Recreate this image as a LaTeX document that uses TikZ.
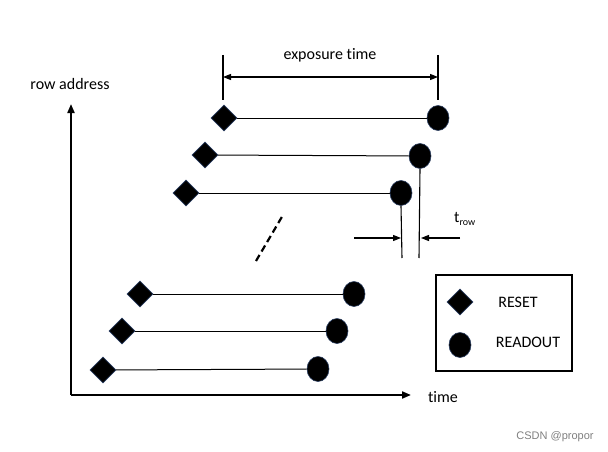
\documentclass[tikz,border=0pt]{standalone}
\usepackage{fontspec}
\setmainfont{Carlito}[Ligatures={NoCommon}]
\newfontfamily\wmfont{Liberation Sans}
\usetikzlibrary{shapes.geometric,arrows.meta}
\definecolor{edgeblue}{RGB}{40,60,95}
\tikzset{
  rst/.style={diamond,fill=black,draw=edgeblue,line width=0.6pt,minimum width=26pt,minimum height=26pt,inner sep=0pt},
  rdo/.style={ellipse,fill=black,draw=edgeblue,line width=0.6pt,minimum width=22pt,minimum height=25pt,inner sep=0pt},
  rowline/.style={line width=1pt},
  lbl/.style={font=\fontsize{16}{18}\selectfont,inner sep=0pt},
  axis/.style={line width=2pt,-{Triangle[length=9pt,width=7pt]}},
  dim/.style={line width=1.1pt},
}
\begin{document}
\begin{tikzpicture}[x=1pt,y=-1pt]
\useasboundingbox (0,0) rectangle (608,452);
\fill[white] (0,0) rectangle (608,452);
% axes
\coordinate (O) at (71,395);
\coordinate (Ytip) at (71,104);
\coordinate (Xtip) at (411,395);
\draw[axis] (O) -- (Ytip);
\draw[axis] (O) -- (Xtip);
\node[lbl] (ylab) at (70,84) {row address};
\node[lbl] (xlab) at (443,397) {time};
% rows
\node[rst] (r1) at (224,118) {};
\node[rdo] (c1) at (438,118) {};
\node[rst] (r2) at (205,155) {};
\node[rdo] (c2) at (420,156) {};
\node[rst] (r3) at (186,193) {};
\node[rdo] (c3) at (401,193) {};
\node[rst] (r4) at (140,294) {};
\node[rdo] (c4) at (354,294) {};
\node[rst] (r5) at (122,331) {};
\node[rdo] (c5) at (337,331) {};
\node[rst] (r6) at (103,370) {};
\node[rdo] (c6) at (318,369) {};
\foreach \i in {1,...,6}{\draw[rowline] (r\i) -- (c\i);}
% exposure time
\coordinate (e1t) at (223,55);
\coordinate (e1b) at (223,100);
\coordinate (e2t) at (438,55);
\coordinate (e2b) at (438,100);
\draw[dim] (e1t) -- (e1b);
\draw[dim] (e2t) -- (e2b);
\coordinate (a1) at (223,77);
\coordinate (a2) at (438,77);
\draw[dim,{Triangle[length=8pt,width=6pt]}-{Triangle[length=8pt,width=6pt]}] (a1) -- (a2);
\node[lbl] (exp) at (330,55.5) {exposure time};
% t_row
\coordinate (v2b) at (419,258);
\coordinate (v3b) at (402,258);
\draw[dim] (c2.south) -- (v2b);
\draw[dim] (c3.south) -- (v3b);
\coordinate (la) at (354,238);
\coordinate (lb) at (401,238);
\coordinate (ra) at (460,238);
\coordinate (rb) at (421,238);
\draw[dim,-{Triangle[length=8pt,width=6pt]}] (la) -- (lb);
\draw[dim,-{Triangle[length=8pt,width=6pt]}] (ra) -- (rb);
\node[lbl,anchor=west] (trow) at (454,219) {t\raisebox{-0.35ex}{\fontsize{10}{11}\selectfont row}};
% dashed
\coordinate (d1) at (256,261);
\coordinate (d2) at (283,215);
\draw[line width=2.2pt,dash pattern=on 7pt off 4pt] (d1) -- (d2);
% legend
\node[draw,line width=1.1pt,minimum width=136pt,minimum height=96pt,inner sep=0pt] (leg) at (504,323) {};
\node[rst] (lr) at (460,302) {};
\node[rdo] (lc) at (460,345) {};
\node[lbl] (lrt) at (518,302) {RESET};
\node[lbl] (lct) at (528,342) {READOUT};
% watermark
\node[text=gray,inner sep=0pt,font=\wmfont\fontsize{11}{12}\selectfont] (wm) at (555,437) {CSDN @propor};
\end{tikzpicture}
\end{document}
